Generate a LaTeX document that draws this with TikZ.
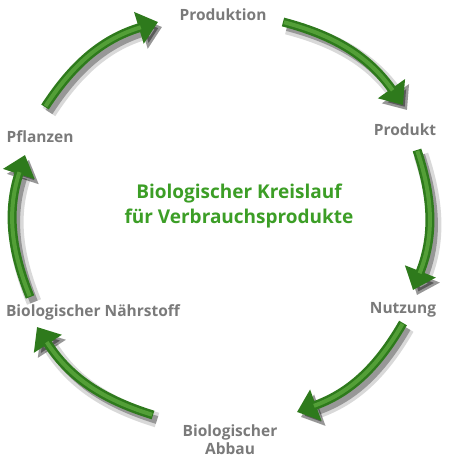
\documentclass[tikz,border=0pt]{standalone}
\usepackage{fontspec}
\setmainfont{Open Sans}
\usetikzlibrary{arrows.meta,positioning}

\definecolor{titelgruen}{HTML}{3C9E26}
\definecolor{pfeilgruen}{HTML}{2E7A1C}
\definecolor{pfeilhell}{HTML}{6DB84A}
\definecolor{labelgrau}{HTML}{7A7A7A}

\tikzset{
  station/.style={font=\bfseries\fontsize{15.5}{18}\selectfont, text=labelgrau, align=center, inner sep=0pt},
  titel/.style={font=\bfseries\fontsize{19}{25}\selectfont, text=titelgruen, align=center, inner sep=0pt},
  kreispfeil/.style={line width=9pt, draw=pfeilgruen, -{Triangle[length=20pt,width=32pt]},
    preaction={draw=black, opacity=0.15, line width=15pt, transform canvas={shift={(4pt,-5pt)}}},
    preaction={draw=black, opacity=0.3, line width=8pt, transform canvas={shift={(4pt,-5pt)}}},
    postaction={draw=pfeilhell, opacity=0.6, line width=4pt, -, shorten >=18pt, shorten <=1pt}},
}

\begin{document}
\begin{tikzpicture}[x=1pt,y=1pt]
  \useasboundingbox (0,0) rectangle (450,-460);

  % stations of the cycle
  \node[station] (produktion) at (223,-15) {Produktion};
  \node[station] (produkt) at (405,-130) {Produkt};
  \node[station] (nutzung) at (403,-310) {Nutzung};
  \node[station] (abbau) at (230,-440) {Biologischer\\Abbau};
  \node[station] (naehrstoff) at (93,-312) {Biologischer Nährstoff};
  \node[station] (pflanzen) at (40,-137) {Pflanzen};

  \node[titel] (titel) at (239,-206) {Biologischer Kreislauf\\für Verbrauchsprodukte};

  % arrow ends
  \coordinate (a1) at (45,-107);  \coordinate (e1) at (158,-22);
  \coordinate (a2) at (283,-22);  \coordinate (e2) at (403,-105);
  \coordinate (a3) at (417,-150); \coordinate (e3) at (413,-290);
  \coordinate (a4) at (403,-323); \coordinate (e4) at (297,-412);
  \coordinate (a5) at (153,-415); \coordinate (e5) at (37,-327);
  \coordinate (a6) at (30,-297);  \coordinate (e6) at (25,-155);

  \foreach \von/\nach in {a1/e1,a2/e2,a3/e3,a4/e4,a5/e5,a6/e6}
    \draw[kreispfeil] (\von) to[bend left=20] (\nach);
\end{tikzpicture}
\end{document}
